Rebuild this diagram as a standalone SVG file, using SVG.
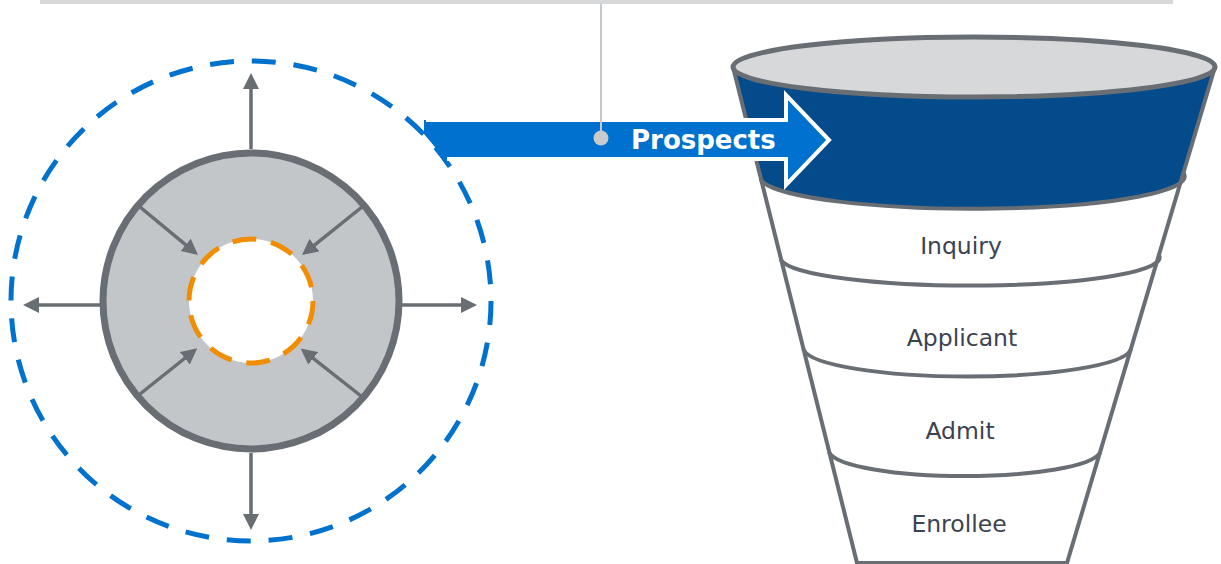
<svg xmlns="http://www.w3.org/2000/svg" width="1221" height="564" viewBox="0 0 1221 564">
<style>
.garrow{stroke:#686e74;stroke-width:3.5;fill:none;marker-end:url(#ah)}
.fline{stroke:#686e74;stroke-width:4;fill:none;stroke-linecap:round}
.lbl{font-family:"DejaVu Sans","Verdana",sans-serif;font-size:23.5px;fill:#3b4350;text-anchor:middle}
</style>
<defs>
<marker id="ah" markerUnits="userSpaceOnUse" markerWidth="16" markerHeight="16" refX="6" refY="8" orient="auto">
<path d="M0,0 L16,8 L0,16 Z" fill="#686e74"/>
</marker>
</defs>
<rect x="40" y="0" width="1133" height="4" fill="#d7d8da"/>
<g id="cycle">
<circle cx="251" cy="301" r="240" fill="none" stroke="#0072ce" stroke-width="5" stroke-dasharray="24 17.9"/>
<circle cx="251" cy="301" r="148" fill="#c3c6c9" stroke="#686e74" stroke-width="7"/>
<circle cx="251" cy="301" r="62" fill="#ffffff" stroke="#f28c00" stroke-width="5" stroke-dasharray="24 15"/>
</g>
<g id="connectors">
<line class="garrow" x1="251" y1="149" x2="251" y2="83"/>
<line class="garrow" x1="251" y1="453" x2="251" y2="520"/>
<line class="garrow" x1="100" y1="305" x2="33" y2="305"/>
<line class="garrow" x1="402" y1="305" x2="467" y2="305"/>
<line class="garrow" x1="140" y1="207" x2="190.3" y2="248.6"/>
<line class="garrow" x1="362" y1="207" x2="309.8" y2="248.8"/>
<line class="garrow" x1="140" y1="394" x2="189.5" y2="354.5"/>
<line class="garrow" x1="361" y1="396" x2="308.5" y2="354.6"/>
</g>
<g id="funnel">
<path d="M733,67 L857,563 L1067,563 L1215,67 Z" fill="#ffffff"/>
<path d="M733,67 L761,180 A211 32 0 0 0 1183.4,173 L1215,67 Z" fill="#034b8a"/>
<path class="fline" d="M761,180 A211 32 0 0 0 1183.4,173"/>
<path class="fline" d="M781,260 A189 28 0 0 0 1158.9,255"/>
<path class="fline" d="M803.8,350 A164 29 0 0 0 1130.6,350"/>
<path class="fline" d="M829.5,453 A136 26 0 0 0 1099.8,453"/>
<path class="fline" d="M733,67 L857,563 L1067,563 L1215,67"/>
<ellipse cx="974" cy="67" rx="241" ry="30" fill="#d7d8da" stroke="#686e74" stroke-width="5"/>
</g>
<g id="inquiry"><text class="lbl" x="961" y="254">Inquiry</text></g>
<g id="applicant"><text class="lbl" x="962" y="346">Applicant</text></g>
<g id="admit"><text class="lbl" x="960" y="439">Admit</text></g>
<g id="enrollee"><text class="lbl" x="959" y="532">Enrollee</text></g>
<g id="prospects">
<polygon points="424,120 786,120 786,95 829,140 786,185 786,159 445,159 424,134" fill="#0071ce"/>
<polyline points="426,120 786,120 786,95 829,140 786,185 786,159 447,159" fill="none" stroke="#ffffff" stroke-width="4" stroke-linejoin="miter"/>
<line x1="601" y1="4" x2="601" y2="132" stroke="#c6c8ca" stroke-width="2"/>
<circle cx="601" cy="138" r="7.5" fill="#c8cacc"/>
<text x="631" y="149" font-family="'DejaVu Sans',Verdana,sans-serif" font-weight="bold" font-size="26" fill="#ffffff">Prospects</text>
</g>
</svg>
